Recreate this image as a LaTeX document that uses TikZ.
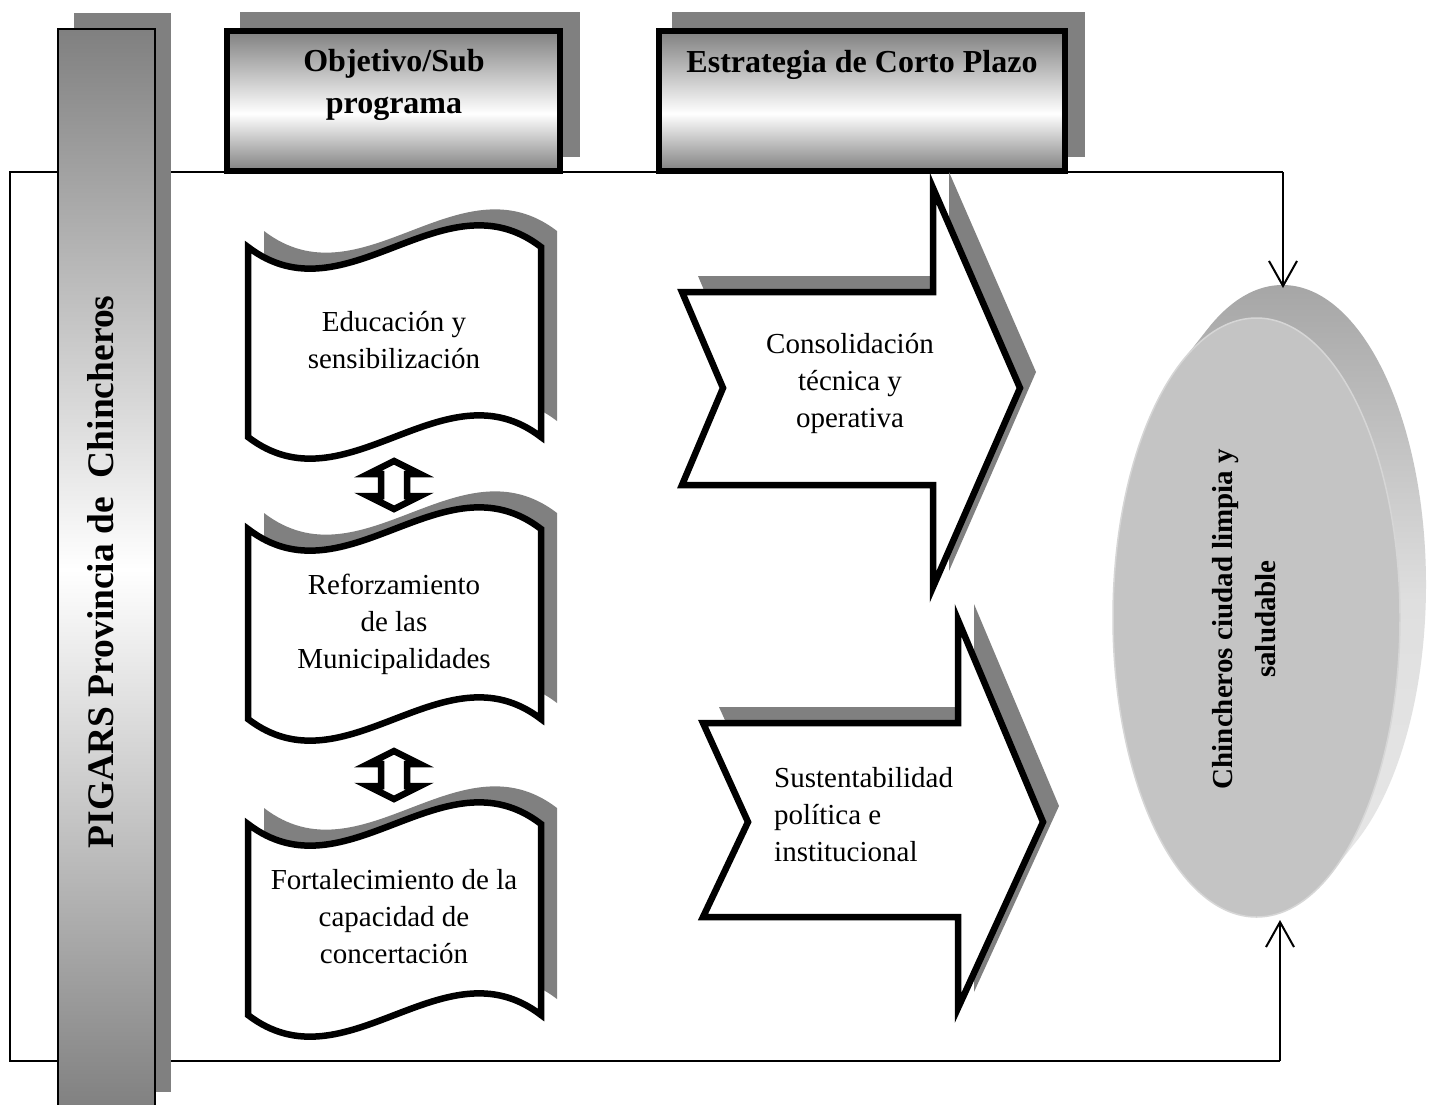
\documentclass[tikz,border=0pt]{standalone}
\usepackage{fontspec}
\setmainfont{Liberation Serif}
\usetikzlibrary{arrows.meta,shapes.geometric}
\definecolor{shad}{HTML}{808080}
\definecolor{ellface}{HTML}{C4C4C4}
\definecolor{ellrim}{HTML}{D6D6D6}
\definecolor{extA}{HTML}{A6A6A6}
\definecolor{extB}{HTML}{DFDFDF}
\definecolor{extC}{HTML}{E8E8E8}
\pgfdeclareverticalshading{hdrshade}{100bp}{color(0bp)=(shad); color(25bp)=(shad); color(45.5bp)=(white); color(75bp)=(shad); color(100bp)=(shad)}
\pgfdeclareverticalshading{barshade}{100bp}{color(0bp)=(shad); color(25bp)=(shad); color(50bp)=(white); color(75bp)=(shad); color(100bp)=(shad)}
\newcommand\scrollshape[2]{(248,#1) .. controls (345.67,{#1+75}) and (443.33,{#1-75}) .. (541,#1) -- (541,#2) .. controls (443.33,{#2-75}) and (345.67,{#2+75}) .. (248,#2) -- cycle}
\newcommand\dblarrow[1]{(394,#1) -- (420,{#1+13}) -- (407,{#1+13}) -- (407,{#1+35}) -- (420,{#1+35}) -- (394,{#1+48}) -- (368,{#1+35}) -- (381,{#1+35}) -- (381,{#1+13}) -- (368,{#1+13}) -- cycle}
\newcommand\arrowone{(682,292) -- (933,292) -- (933,188) -- (1020,388) -- (933,587) -- (933,485) -- (682,485) -- (723,388) -- cycle}
\newcommand\arrowtwo{(703,723) -- (958,723) -- (958,620) -- (1043,822) -- (958,1008) -- (958,917) -- (703,917) -- (748,822) -- cycle}
\begin{document}
\begin{tikzpicture}[x=1pt,y=-1pt,
  frame/.style={draw=black, line width=2pt},
  conn/.style={draw=black, line width=2pt, -{Straight Barb[length=25pt,width=28pt]}},
  outl/.style={draw=black, line width=6.5pt, fill=white, miter limit=10},
  shadowfill/.style={fill=shad},
  hdrbox/.style={draw=black, line width=6.5pt, shading=hdrshade},
  barbox/.style={draw=black, line width=2pt, shading=barshade},
  bodytext/.style={font=\fontsize{29}{37}\selectfont, align=center, inner sep=0pt},
  hdrtext/.style={font=\fontsize{32}{42}\selectfont\bfseries, align=center, inner sep=0pt},
  bartext/.style={font=\fontsize{37.5}{45}\selectfont\bfseries, rotate=90, inner sep=0pt},
  elltext/.style={font=\fontsize{29}{43}\selectfont\bfseries, align=center, rotate=90, inner sep=0pt},
]
\useasboundingbox (0,0) rectangle (1446,1104);
\fill[white] (0,0) rectangle (1446,1104);

% outer frame
\coordinate (fTL) at (10,172);
\coordinate (fTR) at (1283,172);
\coordinate (fBL) at (10,1061);
\coordinate (fBR) at (1280,1061);
\coordinate (eTop) at (1283,288);
\coordinate (eBot) at (1280,920);
\draw[frame] (fTR) -- (fTL) -- (fBL) -- (fBR);

% vertical bar
\fill[shadowfill] (74,13) rectangle (171,1092);
\shadedraw[barbox] (58,29) rectangle (155,1110);
\node[bartext] (bar) at (101,572) {PIGARS Provincia de~~Chincheros};

% headers
\fill[shadowfill] (240,12) rectangle (580,157);
\shadedraw[hdrbox] (227,31) rectangle (560,171);
\node[hdrtext] (h1) at (394,85) {Objetivo/Sub\\programa};
\fill[shadowfill] (672,12) rectangle (1085,157);
\shadedraw[hdrbox] (659,31) rectangle (1065,171);
\node[hdrtext, anchor=base] (h2) at (862,72) {Estrategia de Corto Plazo};

% scrolls
\fill[shadowfill, shift={(16,-16)}] \scrollshape{247}{437};
\draw[outl] \scrollshape{247}{437};
\node[bodytext] (s1) at (394,340) {Educación y\\sensibilización};
\fill[shadowfill, shift={(16,-16)}] \scrollshape{529}{719};
\draw[outl] \scrollshape{529}{719};
\node[bodytext] (s2) at (394,624) {Reforzamiento\\de las\\Municipalidades};
\fill[shadowfill, shift={(16,-16)}] \scrollshape{824}{1015};
\draw[outl] \scrollshape{824}{1015};
\node[bodytext] (s3) at (394,917) {Fortalecimiento de la\\capacidad de\\concertación};

% double arrows
\draw[outl] \dblarrow{461};
\draw[outl] \dblarrow{751};

% big arrows
\fill[shadowfill, shift={(16,-16)}] \arrowone;
\draw[outl] \arrowone;
\node[bodytext] (a1) at (850,383) {Consolidación\\técnica y\\operativa};
\fill[shadowfill, shift={(16,-16)}] \arrowtwo;
\draw[outl] \arrowtwo;
\node[bodytext, align=left, anchor=west] (a2) at (774,815) {Sustentabilidad\\política e\\institucional};

% ellipse
\shade[top color=extA, bottom color=extC, middle color=extB] foreach \k in {0,...,20} {(1256.5+1.3*\k, 617.5-1.65*\k) ellipse [x radius=143.5, y radius=299.5]};
\node[ellipse, draw=ellrim, line width=1.5pt, fill=ellface, minimum width=287pt, minimum height=599pt, inner sep=0pt] (ell) at (1256.5,617.5) {};
\node[elltext] (et) at (1244,619) {Chincheros ciudad limpia y\\saludable};

% connectors
\draw[conn] (fTR) -- (eTop);
\draw[conn] (fBR) -- (eBot);
\end{tikzpicture}
\end{document}
